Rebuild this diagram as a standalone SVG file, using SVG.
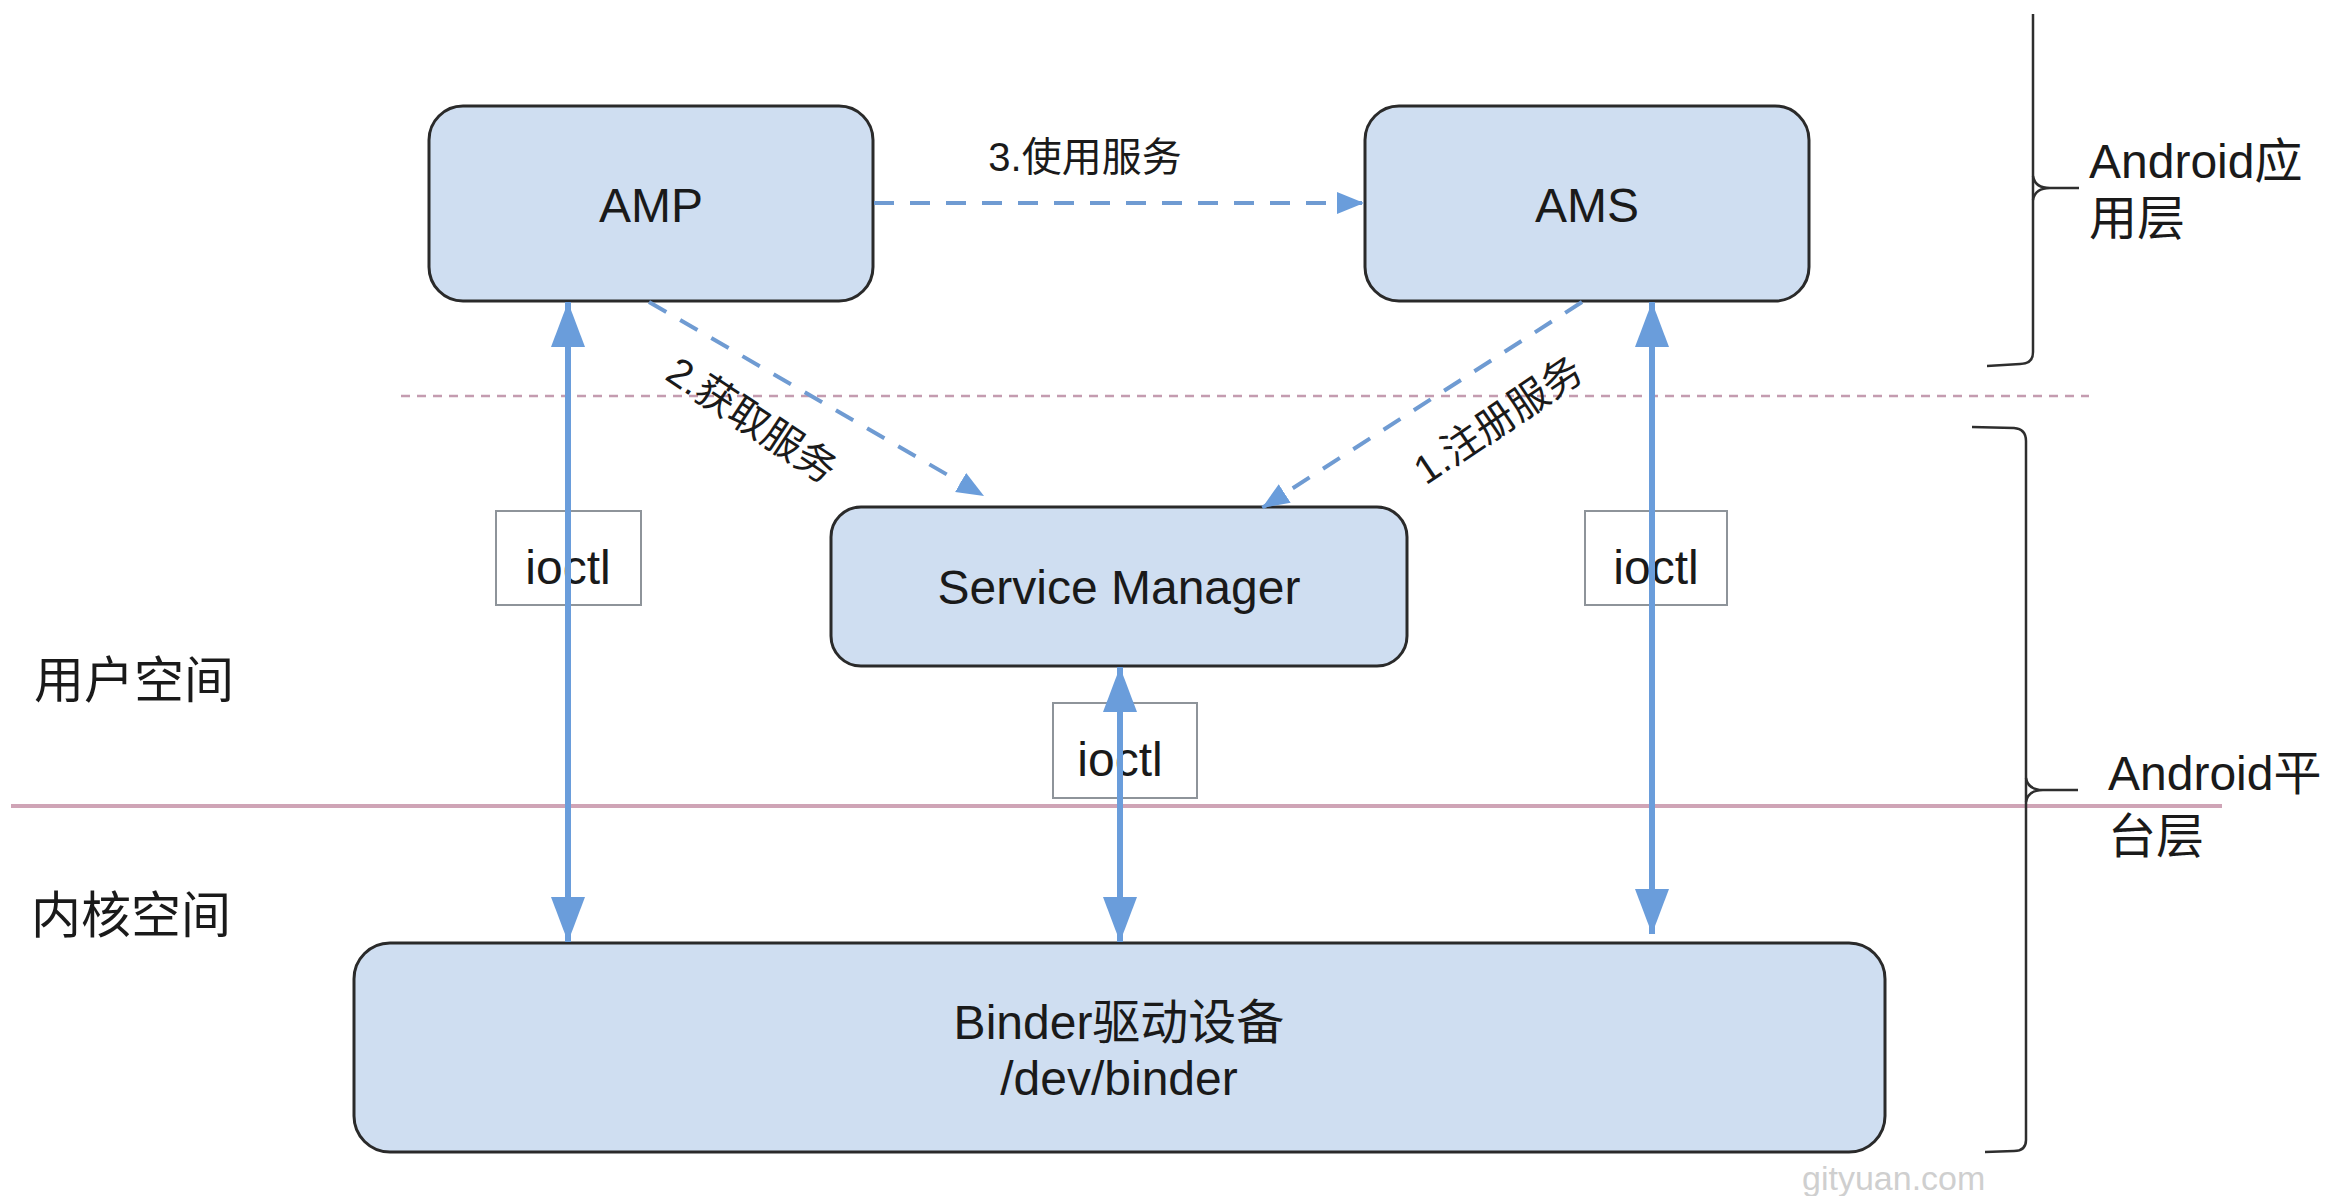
<svg xmlns="http://www.w3.org/2000/svg" width="2331" height="1196" viewBox="0 0 2331 1196">
<style>
.node{fill:#cfdef1;stroke:#2a2a2a;stroke-width:3}
.lbl{font-family:"Liberation Sans","Noto Sans CJK SC",sans-serif;fill:#1a1a1a}
.big{font-size:48px}
.side{font-size:50px}
.small{font-size:40px}
.io{fill:none;stroke:#8e949a;stroke-width:2}
.solid{stroke:#6a9ddb;stroke-width:6;fill:none;marker-start:url(#headS);marker-end:url(#headS)}
.dash{stroke:#6f9bd2;stroke-width:4;fill:none;stroke-dasharray:20 16;marker-end:url(#headD)}
.brace{fill:none;stroke:#2e2e2e;stroke-width:2.5}
</style>
<defs>
<marker id="headS" markerUnits="userSpaceOnUse" markerWidth="46" markerHeight="36" refX="45" refY="17" orient="auto-start-reverse">
<path d="M0,0 L45,17 L0,34 Z" fill="#6a9ddb"/>
</marker>
<marker id="headD" markerUnits="userSpaceOnUse" markerWidth="28" markerHeight="24" refX="27" refY="11" orient="auto">
<path d="M0,0 L27,11 L0,22 Z" fill="#6a9ddb"/>
</marker>
</defs>
<rect width="2331" height="1196" fill="#ffffff"/>
<g id="dividers">
<line x1="401" y1="396" x2="2089" y2="396" stroke="#c49cb0" stroke-width="2.5" stroke-dasharray="9 7"/>
<line x1="11" y1="806" x2="2222" y2="806" stroke="#cfa4b6" stroke-width="4"/>
</g>
<g id="braces">
<path class="brace" d="M2033,14 L2033,352 Q2033,364 2020,364 L1987,366"/>
<path class="brace" d="M2033,176 Q2035,188 2050,188 M2033,200 Q2035,188 2050,188 L2079,188"/>
<path class="brace" d="M1972,427 L2014,428 Q2026,429 2026,441 L2026,1140 Q2026,1151 2014,1151 L1985,1152"/>
<path class="brace" d="M2026,778 Q2028,790 2043,790 M2026,802 Q2028,790 2043,790 L2078,790"/>
</g>
<g id="side-labels">
<text class="lbl side" x="34" y="698">用户空间</text>
<text class="lbl side" x="31" y="933">内核空间</text>
<text class="lbl big" x="2089" y="178">Android应</text>
<text class="lbl big" x="2089" y="235">用层</text>
<text class="lbl big" x="2108" y="790">Android平</text>
<text class="lbl big" x="2108" y="853">台层</text>
</g>
<g id="ioctl-left">
<rect class="io" x="496" y="511" width="145" height="94"/>
<text class="lbl big" x="568" y="584" text-anchor="middle">ioctl</text>
</g>
<g id="ioctl-middle">
<rect class="io" x="1053" y="703" width="144" height="95"/>
<text class="lbl big" x="1120" y="776" text-anchor="middle">ioctl</text>
</g>
<g id="ioctl-right">
<rect class="io" x="1585" y="511" width="142" height="94"/>
<text class="lbl big" x="1656" y="584" text-anchor="middle">ioctl</text>
</g>
<g id="AMP">
<rect class="node" x="429" y="106" width="444" height="195" rx="34"/>
<text class="lbl big" x="651" y="222" text-anchor="middle">AMP</text>
</g>
<g id="AMS">
<rect class="node" x="1365" y="106" width="444" height="195" rx="34"/>
<text class="lbl big" x="1587" y="222" text-anchor="middle">AMS</text>
</g>
<g id="ServiceManager">
<rect class="node" x="831" y="507" width="576" height="159" rx="30"/>
<text class="lbl big" x="1119" y="604" text-anchor="middle">Service Manager</text>
</g>
<g id="Binder">
<rect class="node" x="354" y="943" width="1531" height="209" rx="36"/>
<text class="lbl big" x="1119" y="1039" text-anchor="middle">Binder驱动设备</text>
<text class="lbl big" x="1119" y="1095" text-anchor="middle">/dev/binder</text>
</g>
<g id="connectors">
<line class="solid" x1="568" y1="302" x2="568" y2="942"/>
<line class="solid" x1="1120" y1="667" x2="1120" y2="942"/>
<line class="solid" x1="1652" y1="302" x2="1652" y2="934"/>
<line class="dash" x1="874" y1="203" x2="1364" y2="203"/>
<line class="dash" x1="649" y1="302" x2="984" y2="496"/>
<line class="dash" x1="1582" y1="302" x2="1262" y2="508"/>
<text class="lbl small" x="1085" y="171" text-anchor="middle">3.使用服务</text>
<text class="lbl small" text-anchor="middle" transform="translate(752,420) rotate(33.4)" y="14">2.获取服务</text>
<text class="lbl small" text-anchor="middle" transform="translate(1498,420) rotate(-34)" y="14">1.注册服务</text>
</g>
<text x="1802" y="1190" font-family="Liberation Sans, sans-serif" font-size="34" fill="#cfcfcf">gityuan.com</text>
</svg>
